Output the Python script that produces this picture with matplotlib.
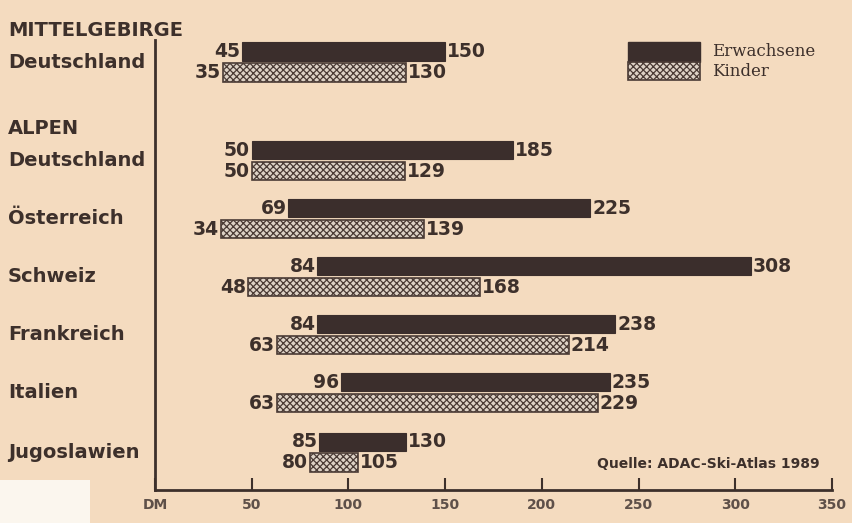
import matplotlib.pyplot as plt
from matplotlib.patches import Rectangle
from matplotlib.transforms import blended_transform_factory
import numpy as np

# data (DM per Woche Skikurs, von - bis)
regions = ['Deutschland', 'Deutschland', 'Österreich', 'Schweiz', 'Frankreich', 'Italien', 'Jugoslawien']
adult_min = [45, 50, 69, 84, 84, 96, 85]
adult_max = [150, 185, 225, 308, 238, 235, 130]
child_min = [35, 50, 34, 48, 63, 63, 80]
child_max = [130, 129, 139, 168, 214, 229, 105]
tick_vals = [0, 50, 100, 150, 200, 250, 300, 350]
tick_labels = ['DM', '50', '100', '150', '200', '250', '300', '350']

paper = '#f4dbbf'
ink = '#3d302b'
dark = '#3b2e2c'
light = '#ddd2c6'

plt.rcParams['hatch.color'] = '#85766d'
plt.rcParams['hatch.linewidth'] = 0.9

W, H = 853, 523
fig = plt.figure(figsize=(W / 100, H / 100), dpi=100, facecolor=paper)
ax = fig.add_axes([155 / W, 1 - 490 / H, (832 - 155) / W, 450 / H])
ax.set_facecolor(paper)

# row layout: first row (Mittelgebirge), gap for "ALPEN" header, then alps rows
rows = np.array([0, 1.7, 2.7, 3.7, 4.7, 5.7, 6.73])
bh = 0.32
off = 0.18
ax.set_xlim(0, 350)
ax.set_ylim(7.38, -0.38)

ax.barh(rows - off, np.array(adult_max) - np.array(adult_min), left=adult_min,
        height=bh, color=dark, edgecolor=dark, linewidth=0.8)
ax.barh(rows + off, np.array(child_max) - np.array(child_min), left=child_min,
        height=bh, color=light, edgecolor='#4a3b35', linewidth=1.2, hatch='xxxxx')

tk = dict(fontsize=13.5, fontweight='bold', color=ink, va='center')
for y, a0, a1, c0, c1 in zip(rows, adult_min, adult_max, child_min, child_max):
    ax.text(a0 - 1, y - off, str(a0), ha='right', **tk)
    ax.text(a1 + 1, y - off, str(a1), ha='left', **tk)
    ax.text(c0 - 1, y + off, str(c0), ha='right', **tk)
    ax.text(c1 + 1, y + off, str(c1), ha='left', **tk)

# axes styling
for s in ['top', 'right']:
    ax.spines[s].set_visible(False)
ax.spines['left'].set_color(ink)
ax.spines['left'].set_linewidth(2)
ax.spines['bottom'].set_color(ink)
ax.spines['bottom'].set_linewidth(2)
ax.set_yticks([])
ax.set_xticks(tick_vals)
ax.set_xticklabels(tick_labels, fontsize=10, fontweight='bold', color='#5e5049')
ax.tick_params(axis='x', direction='in', length=9, width=1.5, color=ink, pad=6)

# row labels
lab = dict(fontsize=14, fontweight='bold', color=ink, va='center', ha='left')
fx = 8 / W
row_tr = blended_transform_factory(fig.transFigure, ax.transData)
for y, name in zip(rows, regions):
    ax.text(fx, y, name, transform=row_tr, **lab)
fig.text(fx, 1 - 30 / H, 'MITTELGEBIRGE', **lab)
fig.text(fx, 1 - 128 / H, 'ALPEN', **lab)

# legend
lx0, lx1 = 628 / W, 700 / W
fig.add_artist(Rectangle((lx0, 1 - 62 / H), lx1 - lx0, 20 / H, transform=fig.transFigure,
                         facecolor=dark, edgecolor=dark))
fig.add_artist(Rectangle((lx0, 1 - 80 / H), lx1 - lx0, 18 / H, transform=fig.transFigure,
                         facecolor=light, edgecolor='#4a3b35', hatch='xxxxx', linewidth=1.2))
lg = dict(fontsize=12, color=ink, va='center', ha='left', family='DejaVu Serif')
fig.text(712 / W, 1 - 52 / H, 'Erwachsene', **lg)
fig.text(712 / W, 1 - 71 / H, 'Kinder', **lg)

fig.text(820 / W, 1 - 464 / H, 'Quelle: ADAC-Ski-Atlas 1989', fontsize=10, fontweight='bold',
         color=ink, ha='right', va='center')

# white scan patch bottom left
fig.add_artist(Rectangle((0, 0), 90 / W, 43 / H, transform=fig.transFigure,
                         facecolor='#fbf6ee', edgecolor='none'))

fig.savefig('out.png', dpi=100, facecolor=paper)
